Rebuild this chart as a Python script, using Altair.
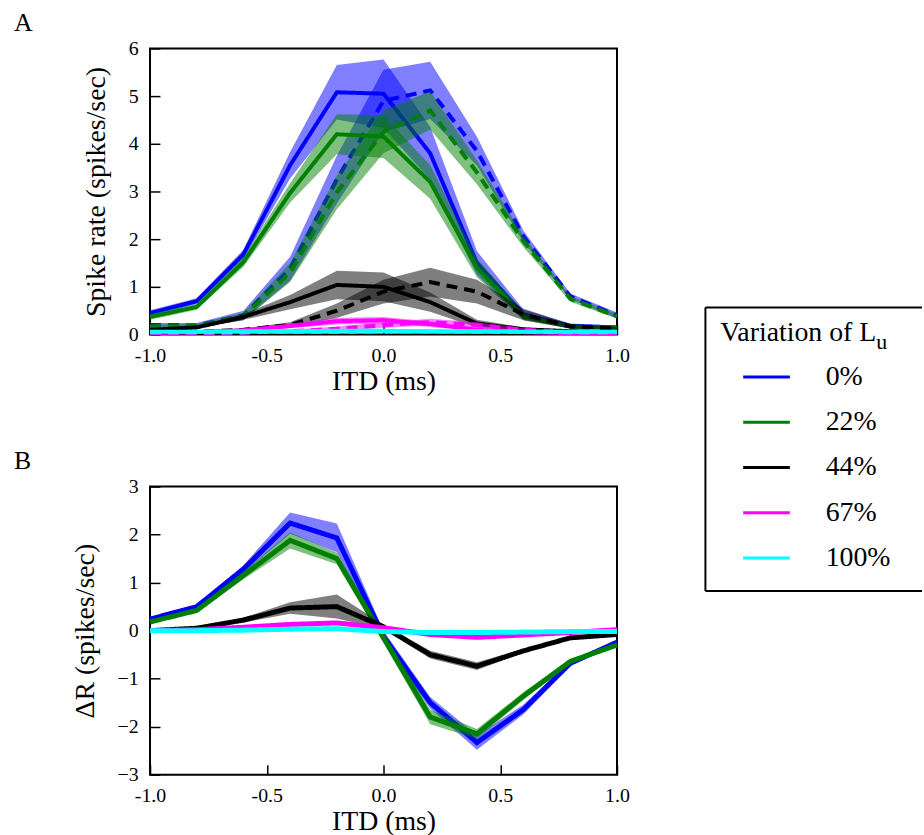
import altair as alt
import pandas as pd

FONT = "Liberation Serif, Times New Roman, Times, serif"
BIG = 28   # largest size at which the serif face renders in this environment

itd = [-1.0, -0.8, -0.6, -0.4, -0.2, 0.0, 0.2, 0.4, 0.6, 0.8, 1.0]
conditions = ["0%", "22%", "44%", "67%", "100%"]
colors = ["#0000ff", "#008000", "#000000", "#ff00ff", "#00ffff"]
legend_title = "Variation of L"
legend_sub = "u"

# Panel A: spike rate, solid curves (mean) and half-width of shaded band
rate_solid = {
    "0%":   [0.45, 0.70, 1.68, 3.55, 5.08, 5.05, 3.80, 1.50, 0.42, 0.18, 0.15],
    "22%":  [0.37, 0.58, 1.52, 2.97, 4.20, 4.15, 3.20, 1.40, 0.38, 0.17, 0.14],
    "44%":  [0.10, 0.15, 0.37, 0.68, 1.04, 1.00, 0.68, 0.23, 0.11, 0.07, 0.05],
    "67%":  [0.03, 0.05, 0.09, 0.18, 0.28, 0.30, 0.22, 0.10, 0.05, 0.03, 0.02],
    "100%": [0.06, 0.06, 0.07, 0.07, 0.08, 0.08, 0.07, 0.07, 0.06, 0.06, 0.06],
}
band_solid = {
    "0%":   [0.06, 0.06, 0.10, 0.28, 0.57, 0.72, 0.55, 0.25, 0.10, 0.05, 0.04],
    "22%":  [0.06, 0.06, 0.10, 0.20, 0.42, 0.45, 0.35, 0.20, 0.08, 0.04, 0.04],
    "44%":  [0.02, 0.03, 0.06, 0.15, 0.30, 0.30, 0.20, 0.08, 0.04, 0.02, 0.02],
    "67%":  [0.01, 0.02, 0.03, 0.05, 0.07, 0.07, 0.06, 0.03, 0.02, 0.01, 0.01],
    "100%": [0.01, 0.01, 0.01, 0.01, 0.01, 0.01, 0.01, 0.01, 0.01, 0.01, 0.01],
}
# Panel A: dashed curves
rate_dashed = {
    "0%":   [0.20, 0.19, 0.40, 1.38, 3.25, 4.90, 5.12, 3.85, 2.05, 0.80, 0.40],
    "22%":  [0.17, 0.18, 0.38, 1.30, 2.98, 4.25, 4.70, 3.40, 1.95, 0.75, 0.38],
    "44%":  [0.05, 0.06, 0.10, 0.20, 0.50, 0.90, 1.10, 0.90, 0.42, 0.17, 0.13],
    "67%":  [0.02, 0.02, 0.04, 0.07, 0.12, 0.20, 0.26, 0.20, 0.10, 0.05, 0.04],
    "100%": [0.05, 0.05, 0.05, 0.06, 0.06, 0.07, 0.07, 0.06, 0.06, 0.05, 0.05],
}
band_dashed = {
    "0%":   [0.04, 0.05, 0.10, 0.25, 0.50, 0.65, 0.60, 0.30, 0.12, 0.06, 0.06],
    "22%":  [0.04, 0.04, 0.08, 0.20, 0.35, 0.45, 0.40, 0.25, 0.12, 0.06, 0.05],
    "44%":  [0.02, 0.02, 0.03, 0.06, 0.15, 0.25, 0.30, 0.25, 0.12, 0.05, 0.03],
    "67%":  [0.01, 0.01, 0.02, 0.03, 0.05, 0.06, 0.07, 0.06, 0.03, 0.02, 0.01],
    "100%": [0.01, 0.01, 0.01, 0.01, 0.01, 0.01, 0.01, 0.01, 0.01, 0.01, 0.01],
}
# Panel B: Delta R and band half-width
delta_r = {
    "0%":   [0.24, 0.50, 1.28, 2.24, 1.93, -0.12, -1.50, -2.33, -1.64, -0.68, -0.24],
    "22%":  [0.18, 0.42, 1.15, 1.88, 1.50, -0.15, -1.80, -2.15, -1.36, -0.64, -0.30],
    "44%":  [0.00, 0.05, 0.22, 0.47, 0.50, 0.08, -0.50, -0.74, -0.42, -0.15, -0.08],
    "67%":  [0.00, 0.02, 0.07, 0.13, 0.16, 0.06, -0.08, -0.14, -0.09, -0.04, 0.02],
    "100%": [0.00, 0.00, 0.01, 0.03, 0.04, -0.02, -0.04, -0.04, -0.03, -0.02, -0.02],
}
band_delta = {
    "0%":   [0.04, 0.05, 0.08, 0.22, 0.30, 0.12, 0.12, 0.15, 0.10, 0.05, 0.04],
    "22%":  [0.04, 0.05, 0.08, 0.17, 0.12, 0.10, 0.15, 0.10, 0.08, 0.05, 0.04],
    "44%":  [0.02, 0.02, 0.05, 0.12, 0.25, 0.05, 0.08, 0.08, 0.04, 0.03, 0.02],
    "67%":  [0.01, 0.01, 0.01, 0.02, 0.02, 0.02, 0.02, 0.02, 0.01, 0.01, 0.01],
    "100%": [0.01, 0.01, 0.01, 0.01, 0.01, 0.01, 0.01, 0.01, 0.01, 0.01, 0.01],
}


def frame(series, bands, kind):
    recs = []
    for c in conditions:
        for x, m, e in zip(itd, series[c], bands[c]):
            recs.append({"itd": x, "cond": c, "kind": kind, "y": m, "lo": m - e, "hi": m + e})
    return recs


df_a = pd.DataFrame(frame(rate_solid, band_solid, "solid") + frame(rate_dashed, band_dashed, "dashed"))
df_b = pd.DataFrame(frame(delta_r, band_delta, "solid"))

color_scale = alt.Scale(domain=conditions, range=colors)
fill_scale = alt.Scale(domain=conditions, range=colors)


def x_axis():
    return alt.Axis(
        title="ITD (ms)", values=[-1.0, -0.5, 0.0, 0.5, 1.0],
        labelExpr="replace(format(datum.value, '.1f'), '\u2212', '-')",
        grid=False, domain=False, tickSize=10, offset=-10, labelPadding=11,
        tickColor="black", tickWidth=1.5, labelFlush=False, labelOverlap=False,
        labelFont=FONT, labelFontSize=20, labelColor="black",
        titleFont=FONT, titleFontSize=BIG, titleFontWeight="normal", titleColor="black",
        titlePadding=2,
    )


def y_axis(title, values):
    return alt.Axis(
        title=title, values=values, format="d",
        grid=False, domain=False, tickSize=10, offset=-10, labelPadding=12,
        tickColor="black", tickWidth=1.5, labelFlush=False, labelOverlap=False,
        labelFont=FONT, labelFontSize=20, labelColor="black",
        titleFont=FONT, titleFontSize=BIG, titleFontWeight="normal", titleColor="black",
        titlePadding=18,
    )


def panel(df, ydomain, yvalues, ytitle, lw, kinds, label, height):
    x = alt.X("itd:Q", scale=alt.Scale(domain=[-1, 1], nice=False, zero=False), axis=x_axis())
    y_scale = alt.Scale(domain=ydomain, nice=False, zero=False)
    yax = y_axis(ytitle, yvalues)
    layers = []
    for c in conditions:
        for kind in kinds:
            sub = alt.Chart(df).transform_filter(
                (alt.datum.cond == c) & (alt.datum.kind == kind)
            )
            area = sub.mark_area(fillOpacity=0.5, strokeWidth=0).encode(
                x=x,
                y=alt.Y("lo:Q", scale=y_scale, axis=yax),
                y2="hi:Q",
                fill=alt.Fill("cond:N", scale=fill_scale, legend=None),
            )
            dash = [11, 7] if kind == "dashed" else [1, 0]
            line = sub.mark_line(strokeWidth=lw, strokeDash=dash).encode(
                x=x,
                y=alt.Y("y:Q", scale=y_scale, axis=yax),
                color=alt.Color("cond:N", scale=color_scale, legend=None),
            )
            layers += [area, line]
    return alt.layer(*layers).properties(
        width=470, height=height,
        view=alt.ViewBackground(stroke="black", strokeWidth=2),
        title=alt.TitleParams(label, anchor="start", frame="group", dx=-137, offset=3,
                              fontSize=26, font=FONT, fontWeight="normal", color="black"),
    )


chart_a = panel(df_a, [0, 6], [0, 1, 2, 3, 4, 5, 6], "Spike rate (spikes/sec)", 4, ["solid", "dashed"], "A", 288)
chart_b = panel(df_b, [-3, 3], [-3, -2, -1, 0, 1, 2, 3], "\u0394R (spikes/sec)", 5, ["solid"], "B", 290)

# ---- hand-drawn legend (matplotlib style box) ----
ROW = 45.5          # row height in pixels
LEG_H = 546         # legend panel height (from top of figure content to bottom of box)
LEG_W = 218
n = len(conditions)
leg_items = pd.DataFrame({
    "cond": conditions,
    "row": [n - i - 0.27 for i in range(n)],
    "x0": [38] * n, "x1": [85] * n, "xt": [121] * n,
})
box_top = n + 1.27
box = pd.DataFrame({
    "x": [0, 0, 0], "x2": [LEG_W, LEG_W, 0],
    "y": [box_top, 0, 0], "y2": [box_top, 0, box_top],
})
lx = alt.Scale(domain=[0, LEG_W], nice=False, zero=False)
ly = alt.Scale(domain=[0, LEG_H / ROW], nice=False, zero=False)

leg_box = alt.Chart(box).mark_rule(color="black", strokeWidth=2).encode(
    x=alt.X("x:Q", scale=lx, axis=None), x2="x2:Q",
    y=alt.Y("y:Q", scale=ly, axis=None), y2="y2:Q",
)
leg_lines = alt.Chart(leg_items).mark_rule(strokeWidth=3).encode(
    x=alt.X("x0:Q", scale=lx, axis=None), x2="x1:Q",
    y=alt.Y("row:Q", scale=ly, axis=None),
    color=alt.Color("cond:N", scale=color_scale, legend=None),
)
leg_labels = alt.Chart(leg_items).mark_text(
    align="left", baseline="middle", font=FONT, fontSize=BIG, color="black"
).encode(
    x=alt.X("xt:Q", scale=lx, axis=None),
    y=alt.Y("row:Q", scale=ly, axis=None),
    text="cond:N",
)
title_df = pd.DataFrame({"t": [legend_title], "s": [legend_sub], "x": [15], "xs": [172],
                         "y": [n + 0.70], "ys": [n + 0.50]})
leg_title = alt.Chart(title_df).mark_text(
    align="left", baseline="middle", font=FONT, fontSize=BIG, color="black"
).encode(
    x=alt.X("x:Q", scale=lx, axis=None), y=alt.Y("y:Q", scale=ly, axis=None), text="t:N",
)
leg_sub = alt.Chart(title_df).mark_text(
    align="left", baseline="middle", font=FONT, fontSize=22, color="black"
).encode(
    x=alt.X("xs:Q", scale=lx, axis=None), y=alt.Y("ys:Q", scale=ly, axis=None), text="s:N",
)
legend_chart = alt.layer(leg_box, leg_lines, leg_labels, leg_title, leg_sub).properties(
    width=LEG_W, height=LEG_H, view=alt.ViewBackground(stroke="transparent")
)

chart = alt.hconcat(
    alt.vconcat(chart_a, chart_b, spacing=51),
    legend_chart,
    spacing=73,
).properties(
    padding={"left": 13, "top": 6, "right": 0, "bottom": 0}
)

chart.save("out.html", embed_options={"renderer": "svg", "actions": False})
